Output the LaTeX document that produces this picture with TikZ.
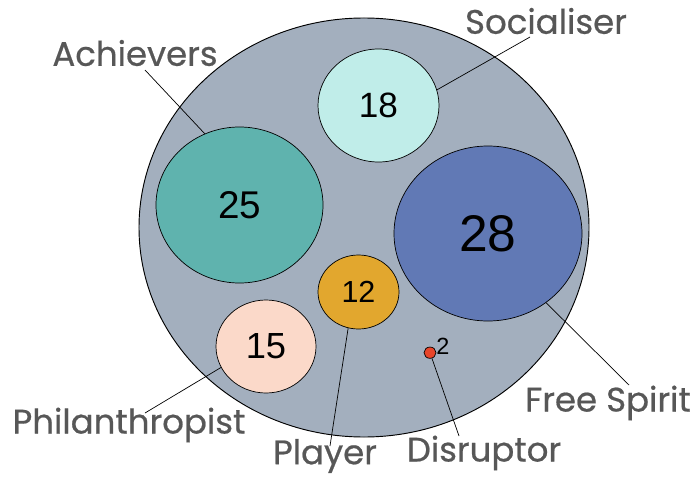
\documentclass[tikz,border=0pt]{standalone}
\usepackage{fontspec}
\setmainfont{Liberation Sans}
\newfontfamily\tagfont{Poppins}[FakeBold=0.6]
\usetikzlibrary{shapes.geometric}
\definecolor{ringgray}{HTML}{A3AFBE}
\definecolor{achteal}{HTML}{5FB3AE}
\definecolor{soccyan}{HTML}{C0EDE9}
\definecolor{fsblue}{HTML}{6179B5}
\definecolor{plgold}{HTML}{E2A72E}
\definecolor{phpeach}{HTML}{FBD9C9}
\definecolor{disred}{HTML}{E8452A}
\definecolor{tagtext}{HTML}{575757}
\tikzset{
  bubble/.style={ellipse,draw=black,line width=0.6pt,inner sep=0pt},
  tag/.style={text=tagtext,font=\tagfont\fontsize{29}{29}\selectfont,inner sep=0pt},
  lead/.style={draw=black,line width=0.6pt}
}
\begin{document}
\begin{tikzpicture}[x=0.03cm,y=-0.03cm]
\useasboundingbox (0,0) rectangle (698,478);
\node[bubble,fill=ringgray,line width=0.8pt,minimum width=13.5cm,minimum height=12.57cm] (all) at (364,227.5) {};
\node[bubble,fill=soccyan,minimum width=3.63cm,minimum height=3.39cm,font=\fontsize{30}{30}\selectfont] (soc) at (378.5,105.5) {18};
\node[bubble,fill=achteal,minimum width=5.01cm,minimum height=4.68cm,font=\fontsize{33}{33}\selectfont] (ach) at (239.5,205) {25};
\node[bubble,fill=fsblue,minimum width=5.64cm,minimum height=5.25cm,font=\fontsize{44}{44}\selectfont] (fs) at (488,233.5) {28};
\node[bubble,fill=plgold,minimum width=2.43cm,minimum height=2.22cm,font=\fontsize{26}{26}\selectfont] (pl) at (358.5,292) {12};
\node[bubble,fill=phpeach,minimum width=3cm,minimum height=2.79cm,font=\fontsize{31}{31}\selectfont] (ph) at (266,346.5) {15};
\node[bubble,fill=disred,minimum width=0.36cm,minimum height=0.34cm] (dis) at (430,352.7) {};
\node[font=\fontsize{20}{20}\selectfont,inner sep=0pt] (disn) at (443,346) {2};
\node[tag] (achl) at (135,53) {Achievers};
\node[tag] (socl) at (546,21) {Socialiser};
\node[tag] (fsl) at (608,403) {Free Spirit};
\node[tag] (disl) at (484,453) {Disruptor};
\node[tag] (phl) at (129,425) {Philanthropist};
\node[tag] (pll) at (325,456) {Player};
\coordinate (achp) at (145,70);
\coordinate (socp) at (530,37);
\coordinate (fsp) at (629,385);
\coordinate (disp) at (459,436);
\coordinate (plp) at (330,446);
\coordinate (php) at (145,413);
\draw[lead] (achp) -- (ach.116);
\draw[lead] (socp) -- (soc.15);
\draw[lead] (fsp) -- (fs.-50);
\draw[lead] (disp) -- (dis.-71);
\draw[lead] (plp) -- (pl.-106);
\draw[lead] (php) -- (ph.-155);
\end{tikzpicture}
\end{document}
